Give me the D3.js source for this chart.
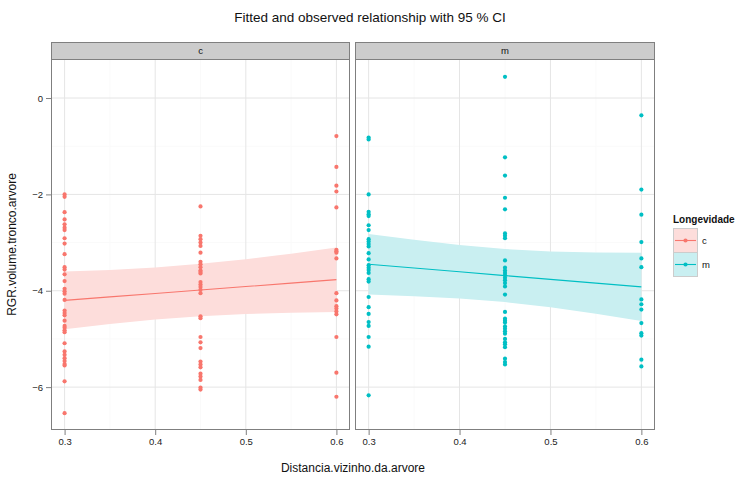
<!DOCTYPE html>
<html>
<head>
<meta charset="utf-8">
<script src="https://d3js.org/d3.v7.min.js"></script>
<style>
  body { margin: 0; background: #fff; }
  svg text { font-family: "Liberation Sans", Arial, sans-serif; }
</style>
</head>
<body>
<div id="chart"></div>
<script>
/* ---- data ---- */
const panels   = ['c', 'm'];
const xLevels  = [0.3, 0.45, 0.6];

// observed RGR per panel and distance level
const obsC030 = [-2.00, -2.05, -2.37, -2.52, -2.62, -2.69, -2.74, -2.91, -3.02, -3.24, -3.51, -3.56,
                 -3.66, -3.80, -3.96, -4.01, -4.06, -4.19, -4.41, -4.46, -4.51, -4.62, -4.73, -4.77,
                 -4.82, -4.86, -5.09, -5.26, -5.33, -5.40, -5.46, -5.52, -5.55, -5.88, -6.54];
const obsC045 = [-2.25, -2.86, -2.93, -3.00, -3.07, -3.21, -3.40, -3.45, -3.51, -3.58, -3.61, -3.64,
                 -3.82, -3.87, -3.92, -3.98, -4.05, -4.53, -4.57, -4.96, -5.07, -5.19, -5.47, -5.53,
                 -5.59, -5.72, -5.78, -5.85, -6.01, -6.05];
const obsC060 = [-0.79, -1.43, -1.82, -1.94, -2.27, -3.15, -3.18, -3.21, -3.33, -4.05, -4.20, -4.32,
                 -4.37, -4.43, -4.49, -4.96, -5.70, -6.20];
const obsM030 = [-0.82, -0.86, -2.00, -2.36, -2.41, -2.45, -2.64, -2.74, -2.93, -2.98, -3.03, -3.08,
                 -3.22, -3.35, -3.47, -3.52, -3.57, -3.63, -3.76, -3.81, -4.13, -4.34, -4.48, -4.65,
                 -4.73, -4.96, -5.16, -6.17];
const obsM045 = [0.44, -1.23, -1.61, -2.07, -2.31, -2.81, -2.86, -2.91, -3.37, -3.52, -3.58, -3.63,
                 -3.68, -3.73, -3.78, -3.84, -3.91, -4.08, -4.44, -4.58, -4.62, -4.66, -4.74, -4.79,
                 -4.84, -4.89, -5.00, -5.07, -5.11, -5.17, -5.41, -5.48, -5.53];
const obsM060 = [-0.36, -1.90, -2.42, -2.99, -3.33, -3.51, -4.18, -4.28, -4.39, -4.67, -4.88, -4.93,
                 -5.43, -5.57];

// fitted line and 95 % CI
const fitX = [0.30, 0.35, 0.40, 0.45, 0.50, 0.55, 0.60];
const fitC = [-4.20, -4.128, -4.057, -3.985, -3.913, -3.842, -3.77];
const uppC = [-3.60, -3.567, -3.515, -3.44, -3.344, -3.23, -3.10];
const lowC = [-4.80, -4.689, -4.599, -4.53, -4.482, -4.454, -4.44];
const fitM = [-3.45, -3.528, -3.607, -3.685, -3.763, -3.842, -3.92];
const uppM = [-2.82, -2.943, -3.052, -3.135, -3.183, -3.207, -3.21];
const lowM = [-4.08, -4.113, -4.162, -4.235, -4.343, -4.477, -4.63];

const xTicks = [0.3, 0.4, 0.5, 0.6];
const xMinor = [0.35, 0.45, 0.55];
const yTicks = [0, -2, -4, -6];
const yMinor = [-1, -3, -5];

const colors   = { c: '#F8766D', m: '#00BFC4' };
const bandFill = { c: '#FDDDDB', m: '#C9EFF1' };

const obs = {
  c: [obsC030, obsC045, obsC060],
  m: [obsM030, obsM045, obsM060],
};
const fits = {
  c: { fit: fitC, upp: uppC, low: lowC },
  m: { fit: fitM, upp: uppM, low: lowM },
};

/* ---- layout ---- */
const W = 740, H = 479;
const panelTop = 59, panelBottom = 430, stripTop = 42;
const panelX = { c: [51, 350], m: [355, 655] };

const svg = d3.select('#chart').append('svg')
  .attr('width', W).attr('height', H);

const y = d3.scaleLinear().domain([-6.89, 0.81]).range([panelBottom, panelTop]);

panels.forEach(p => {
  const [x0, x1] = panelX[p];
  const x = d3.scaleLinear().domain([0.285, 0.615]).range([x0, x1]);
  const g = svg.append('g');

  // background + grid
  g.append('rect').attr('x', x0).attr('y', panelTop)
    .attr('width', x1 - x0).attr('height', panelBottom - panelTop).attr('fill', '#fff');

  g.selectAll('.ymin').data(yMinor).join('line')
    .attr('x1', x0).attr('x2', x1).attr('y1', d => y(d)).attr('y2', d => y(d))
    .attr('stroke', '#FAFAFA').attr('stroke-width', 1);
  g.selectAll('.xmin').data(xMinor).join('line')
    .attr('y1', panelTop).attr('y2', panelBottom).attr('x1', d => x(d)).attr('x2', d => x(d))
    .attr('stroke', '#FAFAFA').attr('stroke-width', 1);
  g.selectAll('.ymaj').data(yTicks).join('line')
    .attr('x1', x0).attr('x2', x1).attr('y1', d => y(d)).attr('y2', d => y(d))
    .attr('stroke', '#E5E5E5').attr('stroke-width', 1);
  g.selectAll('.xmaj').data(xTicks).join('line')
    .attr('y1', panelTop).attr('y2', panelBottom).attr('x1', d => x(d)).attr('x2', d => x(d))
    .attr('stroke', '#E5E5E5').attr('stroke-width', 1);

  // CI band + fitted line
  const f = fits[p];
  const idx = d3.range(fitX.length);
  g.append('path').datum(idx)
    .attr('fill', bandFill[p])
    .attr('d', d3.area().x(i => x(fitX[i])).y0(i => y(f.low[i])).y1(i => y(f.upp[i])));
  g.append('path').datum(idx)
    .attr('fill', 'none').attr('stroke', colors[p]).attr('stroke-width', 1.1)
    .attr('d', d3.line().x(i => x(fitX[i])).y(i => y(f.fit[i])));

  // observed points
  const pts = [];
  obs[p].forEach((vals, k) => vals.forEach(v => pts.push({ x: xLevels[k], y: v })));
  g.selectAll('circle').data(pts).join('circle')
    .attr('cx', d => x(d.x)).attr('cy', d => y(d.y)).attr('r', 2.1)
    .attr('fill', colors[p]);

  // panel border
  g.append('rect').attr('x', x0 + 0.5).attr('y', panelTop + 0.5)
    .attr('width', x1 - x0 - 1).attr('height', panelBottom - panelTop - 1)
    .attr('fill', 'none').attr('stroke', '#7F7F7F').attr('stroke-width', 1);

  // strip
  g.append('rect').attr('x', x0 + 0.5).attr('y', stripTop + 0.5)
    .attr('width', x1 - x0 - 1).attr('height', panelTop - stripTop)
    .attr('fill', '#CCCCCC').attr('stroke', '#7F7F7F').attr('stroke-width', 1);
  g.append('text').attr('x', (x0 + x1) / 2).attr('y', (stripTop + panelTop) / 2 + 3.5)
    .attr('text-anchor', 'middle').attr('font-size', 9.5).attr('fill', '#111').text(p);

  // x axis
  const xAxis = d3.axisBottom(x).tickValues(xTicks).tickSize(5).tickPadding(3)
    .tickFormat(d3.format('.1f'));
  const ax = svg.append('g').attr('transform', `translate(0,${panelBottom})`).call(xAxis);
  ax.select('.domain').remove();
  ax.selectAll('line').attr('stroke', '#7F7F7F');
  ax.selectAll('text').attr('font-size', 9.5).attr('fill', '#222')
    .style('font-family', '"Liberation Sans", Arial, sans-serif');
});

// y axis (left panel only)
const yAxis = d3.axisLeft(y).tickValues(yTicks).tickSize(5).tickPadding(3);
const ay = svg.append('g').attr('transform', `translate(${panelX.c[0]},0)`).call(yAxis);
ay.select('.domain').remove();
ay.selectAll('line').attr('stroke', '#7F7F7F');
ay.selectAll('text').attr('font-size', 9.5).attr('fill', '#222')
  .style('font-family', '"Liberation Sans", Arial, sans-serif');

// titles
svg.append('text').attr('x', 370).attr('y', 22).attr('text-anchor', 'middle')
  .attr('font-size', 13.5).attr('fill', '#111')
  .text('Fitted and observed relationship with 95 % CI');
svg.append('text').attr('x', 353).attr('y', 472).attr('text-anchor', 'middle')
  .attr('font-size', 12).attr('fill', '#111').text('Distancia.vizinho.da.arvore');
svg.append('text').attr('transform', `translate(16,${(panelTop + panelBottom) / 2}) rotate(-90)`)
  .attr('text-anchor', 'middle').attr('font-size', 12).attr('fill', '#111')
  .text('RGR.volume.tronco.arvore');

// legend
const lg = svg.append('g').attr('transform', 'translate(673,0)');
lg.append('text').attr('x', 0).attr('y', 223).attr('font-size', 10).attr('font-weight', 'bold')
  .attr('fill', '#111').text('Longevidade');
panels.forEach((p, i) => {
  const ky = 228 + i * 24;
  lg.append('rect').attr('x', 0.5).attr('y', ky + 0.5).attr('width', 24).attr('height', 24)
    .attr('fill', bandFill[p]).attr('stroke', '#CCCCCC');
  lg.append('line').attr('x1', 2).attr('x2', 23).attr('y1', ky + 12.5).attr('y2', ky + 12.5)
    .attr('stroke', colors[p]).attr('stroke-width', 1.1);
  lg.append('circle').attr('cx', 12.5).attr('cy', ky + 12.5).attr('r', 2.1).attr('fill', colors[p]);
  lg.append('text').attr('x', 29).attr('y', ky + 16).attr('font-size', 9.5).attr('fill', '#111').text(p);
});
</script>
</body>
</html>
